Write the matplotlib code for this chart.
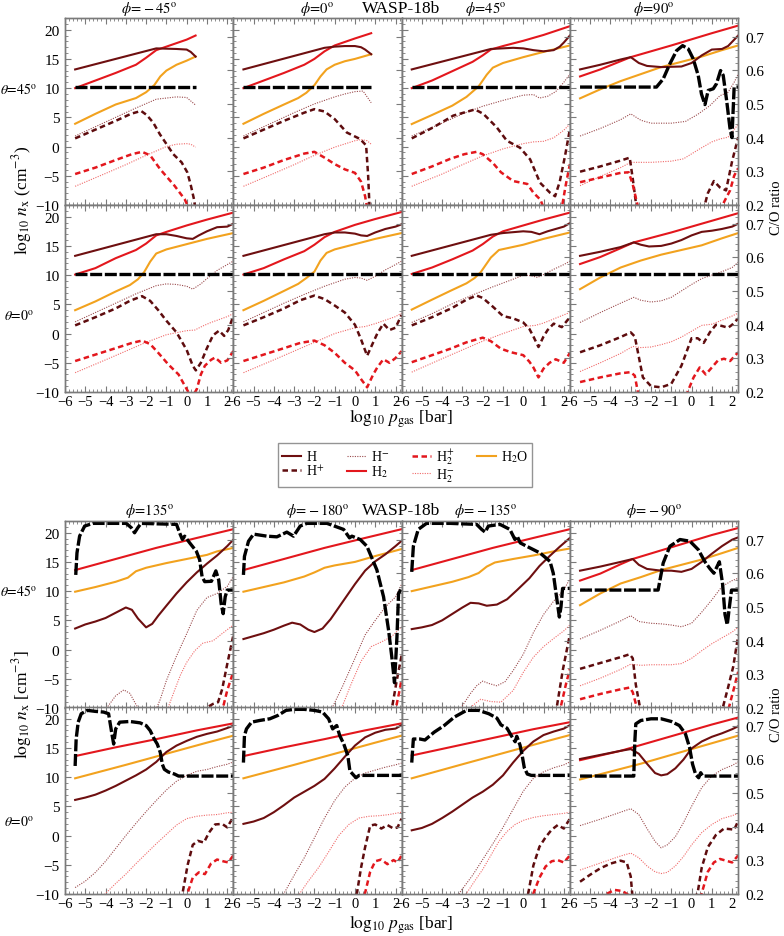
import matplotlib
matplotlib.use("Agg")
import matplotlib.pyplot as plt
from matplotlib.ticker import MultipleLocator
from matplotlib.lines import Line2D

plt.rcParams['font.family'] = ['Liberation Serif', 'DejaVu Serif']
plt.rcParams['mathtext.fontset'] = 'stix'

# ---------------- top block: WASP-18b, phi = -45, 0, 45, 90 ----------------
# row theta=45
a11_h = ([-5.5, -1.5, -0.5, 0, 0.2, 0.44], [13.2, 16.8, 16.7, 16.6, 16.2, 15.4])
a11_hp = ([-5.5, -4.5, -3.5, -2.75, -2.25, -1.97, -1.65, -1.32, -0.99, -0.66, -0.25, 0.03, 0.19, 0.36, 0.42],
          [1.4, 2.9, 4.4, 5.6, 6.1, 5.4, 4.1, 2.1, 0.4, -1.3, -2.7, -4.4, -6.4, -9.0, -10.5])
a11_hm = ([-5.5, -4.5, -3.5, -2.5, -1.5, -0.5, 0, 0.44], [1.8, 3.4, 5.0, 6.6, 8.1, 8.5, 8.4, 7.1])
a11_h2 = ([-5.5, -4.5, -3.5, -2.5, -2, -1.5, -1, 0, 0.44], [10.0, 11.3, 12.6, 14.0, 15.2, 16.5, 17.1, 18.3, 19.0])
a11_h2p = ([-5.5, -4.5, -3.5, -2.7, -2.2, -1.8, -1.3, -0.6, -0.1, 0.1],
           [-4.7, -3.6, -2.3, -1.3, -0.9, -1.5, -3.9, -6.7, -9.0, -10.5])
a11_h2m = ([-5.5, -4, -3, -2, -1, -0.5, 0, 0.2, 0.44], [-6.8, -4.6, -3.1, -1.5, 0.0, 0.4, 0.5, 0.4, -0.1])
a11_h2o = ([-5.5, -4.5, -3.5, -2.5, -2, -1.6, -1.3, -1, -0.5, 0, 0.44],
           [3.9, 5.6, 7.2, 8.3, 9.3, 10.5, 12.0, 13.0, 14.0, 14.7, 15.4])
a11_co = ([-5.5, 0.44], [0.55, 0.55])

a12_h = ([-5.5, -1.5, -1, -0.5, 0, 0.3, 0.5, 0.8], [13.2, 16.9, 17.1, 17.2, 17.2, 17.0, 16.6, 15.8])
a12_hp = ([-5.5, -4.5, -3.5, -2.5, -2, -1.5, -1, -0.4, 0.25, 0.55, 0.65, 0.72],
          [1.4, 2.9, 4.4, 5.8, 6.4, 6.0, 4.7, 2.4, 1.3, 0.2, -5.0, -10.5])
a12_hm = ([-5.5, -4, -3, -2, -1, -0.5, 0, 0.4, 0.8], [1.8, 4.2, 5.8, 7.3, 8.5, 9.0, 9.4, 9.5, 7.5])
a12_h2 = ([-5.5, -4.5, -3.5, -2.5, -2, -1.5, -1, 0, 0.8], [10.0, 11.3, 12.6, 14.0, 15.0, 16.3, 17.3, 18.5, 19.4])
a12_h2p = ([-5.5, -4.5, -3.5, -2.5, -2, -1.5, -1, -0.5, 0, 0.3, 0.5, 0.6],
           [-4.7, -3.6, -2.3, -1.2, -0.9, -1.9, -3.0, -3.9, -4.5, -6.0, -8.5, -10.5])
a12_h2m = ([-5.5, -4, -3, -2, -1, 0, 0.3, 0.6, 0.8], [-6.8, -4.6, -3.1, -1.5, -0.1, 1.0, 1.2, 1.0, 0.4])
a12_h2o = ([-5.5, -4.5, -3.5, -2.8, -2.4, -2.0, -1.7, -1.4, -1, -0.5, 0, 0.8],
           [3.9, 5.6, 7.2, 8.3, 9.2, 10.5, 12.0, 13.2, 14.0, 14.6, 15.0, 15.8])
a12_co = ([-5.5, 0.8], [0.55, 0.55])

a13_h = ([-5.5, -1.6, -0.5, 0, 0.5, 1.0, 1.5, 1.8, 2.0, 2.3], [13.2, 16.7, 16.9, 16.8, 16.5, 16.3, 16.5, 17.1, 17.8, 19.0])
a13_hp = ([-5.5, -4.43, -3.45, -2.38, -1.97, -1.31, -0.81, -0.16, 0.34, 0.83, 1.32, 1.57, 1.8, 2.06, 2.3],
          [1.4, 3.3, 5.3, 6.35, 5.6, 3.3, 1.0, -0.2, -2.2, -6.2, -7.9, -8.5, -6.0, -1.6, 3.0])
a13_hm = ([-5.5, -4, -3, -2, -1, 0, 0.5, 0.8, 1.2, 1.6, 2.0, 2.3], [1.8, 4.0, 5.6, 6.9, 7.9, 8.8, 8.9, 8.3, 8.6, 9.4, 11.0, 12.4])
a13_h2 = ([-5.5, -4.5, -3.5, -2.5, -2, -1.6, -1, 0, 1, 2.3], [10.0, 11.3, 12.9, 14.5, 15.6, 16.6, 17.2, 18.1, 19.1, 20.6])
a13_h2p = ([-5.5, -4.5, -3.6, -2.9, -2.3, -2.0, -1.5, -1.1, -0.5, 0.2, 0.5, 0.85, 1.0, 1.5, 1.9, 2.1, 2.3],
           [-4.7, -3.4, -2.1, -1.3, -0.9, -1.3, -2.8, -4.4, -5.9, -6.4, -7.9, -9.1, -10.5, -12, -10.5, -6.5, -3.0])
a13_h2m = ([-5.5, -4, -3, -2, -1, 0, 0.5, 1, 1.5, 2, 2.3], [-6.8, -4.7, -3.1, -1.6, -0.4, 0.5, 0.8, 0.9, 1.5, 2.8, 3.85])
a13_h2o = ([-5.5, -4.5, -3.5, -2.8, -2.2, -1.8, -1.5, -1, 0, 1, 2.3],
           [3.85, 5.4, 7.0, 8.5, 10.3, 12.3, 13.5, 14.3, 15.3, 16.2, 17.3])
a13_co = ([-5.5, 2.3], [0.55, 0.55])

a14_h = ([-5.5, -4.5, -3.5, -3.0, -2.6, -2.2, -1.5, -0.5, 0, 0.5, 1.0, 1.5, 1.8, 2.3],
         [13.2, 14.0, 14.9, 15.3, 14.3, 13.8, 13.6, 13.7, 14.3, 15.6, 16.6, 16.7, 17.2, 19.0])
a14_hp = ([-5.5, -4.5, -3.5, -3.05, -2.9, -2.75, -2.6, 0.5, 0.8, 1.1, 1.4, 1.7, 2.0, 2.3],
          [-4.3, -3.4, -2.4, -1.9, -5.5, -9.5, -12, -12, -8, -5.9, -7.0, -7.5, -2.5, 1.6])
a14_hm = ([-5.5, -4.5, -3.5, -3.0, -2.5, -2, -1, -0.3, 0.3, 0.9, 1.4, 1.8, 2.1, 2.3],
          [1.8, 3.1, 4.6, 5.6, 4.5, 4.0, 4.0, 4.3, 5.5, 7.0, 8.7, 9.3, 11.0, 12.4])
a14_h2 = ([-5.5, -4.5, -3.5, -3, -1, 1, 2.3], [12.0, 13.2, 14.6, 15.3, 17.3, 19.4, 20.7])
a14_h2p = ([-5.5, -4.5, -3.5, -3.1, -2.9, -2.7, -2.5, 1.4, 1.6, 1.9, 2.1, 2.3],
           [-6.1, -5.3, -4.5, -4.4, -6.5, -9.5, -12, -12, -9.5, -7.5, -5.0, -3.7])
a14_h2m = ([-5.5, -4.5, -3.5, -3, -2.5, -2, -1, -0.4, 0.4, 1, 1.4, 1.8, 2.1, 2.3],
           [-6.7, -5.1, -3.6, -2.7, -2.7, -2.7, -2.5, -2.1, -0.4, 0.8, 1.3, 1.6, 2.9, 3.85])
a14_h2o = ([-5.5, -4.5, -3.5, -2.5, -1.5, -0.5, 0.5, 1.5, 2.3], [8.25, 9.8, 11.2, 12.4, 13.6, 14.5, 15.4, 16.5, 17.3])
a14_co = ([-5.5, -1.73, -1.4, -1.07, -0.74, -0.44, -0.16, 0.08, 0.33, 0.49, 0.66, 0.82, 1.07, 1.23, 1.43, 1.56,
           1.73, 1.89, 1.99, 2.05, 2.1, 2.3],
          [0.55, 0.55, 0.574, 0.619, 0.658, 0.673, 0.663, 0.634, 0.584, 0.529, 0.498, 0.54, 0.545, 0.56, 0.599, 0.585,
           0.51, 0.43, 0.40, 0.48, 0.55, 0.55])

# row theta=0
a21_h = ([-5.5, -1.5, -1, -0.5, 0, 0.3, 0.6, 1.0, 1.5, 2.0, 2.3], [13.3, 17.0, 17.0, 16.7, 16.3, 16.2, 16.8, 17.5, 18.2, 18.3, 18.8])
a21_hp = ([-5.5, -4.5, -3.5, -2.8, -2.2, -1.8, -1.4, -1, -0.5, 0, 0.3, 0.45, 0.7, 1.0, 1.3, 1.6, 1.85, 2.05, 2.3],
          [1.4, 2.8, 4.3, 5.6, 6.4, 5.6, 4.0, 2.2, 0.2, -2.8, -5.5, -6.3, -5.0, -2.5, -0.3, 0.5, -0.4, 0.6, 3.0])
a21_hm = ([-5.5, -4.5, -3.5, -2.5, -1.5, -1, -0.5, 0, 0.3, 0.7, 1.0, 1.5, 2.0, 2.3],
          [2.0, 3.6, 5.2, 6.8, 8.2, 8.5, 8.4, 8.1, 7.6, 8.5, 9.4, 10.8, 11.8, 12.4])
a21_h2 = ([-5.5, -4.5, -3.5, -2.5, -2, -1.5, -1, 0, 1, 2.3], [10.1, 11.2, 12.9, 14.3, 15.4, 16.8, 17.4, 18.5, 19.5, 20.7])
a21_h2p = ([-5.5, -4.5, -3.5, -2.7, -2.2, -1.8, -1.4, -0.9, -0.4, 0, 0.25, 0.5, 0.7, 0.9, 1.2, 1.4, 1.7, 2.0, 2.3],
           [-4.7, -3.6, -2.5, -1.6, -1.2, -1.8, -3.3, -5.3, -7.0, -9.5, -11, -9.5, -7.0, -5.5, -4.5, -4.1, -5.0, -4.6, -3.0])
a21_h2m = ([-5.5, -4, -3, -2, -1, 0, 0.4, 0.8, 1.2, 1.6, 2.0, 2.3], [-6.7, -4.5, -3.0, -1.5, -0.2, 0.5, 0.6, 1.3, 1.9, 2.4, 2.9, 3.4])
a21_h2o = ([-5.5, -4.5, -3.5, -2.8, -2.4, -2.1, -1.8, -1.5, -1, 0, 1, 2.3],
           [4.0, 5.5, 7.2, 8.3, 9.3, 10.5, 12.3, 13.7, 14.4, 15.3, 16.2, 17.2])
a21_co = ([-5.5, 2.3], [0.55, 0.55])

a22_h = ([-5.5, -1.5, -1, -0.5, 0, 0.3, 0.6, 1.0, 1.5, 2.0, 2.3], [13.3, 17.0, 17.3, 17.3, 17.1, 16.8, 16.7, 17.3, 17.9, 18.3, 18.7])
a22_hp = ([-5.5, -4.5, -3.5, -2.7, -2.0, -1.5, -1, -0.5, 0, 0.3, 0.6, 0.9, 1.1, 1.4, 1.7, 2.0, 2.3],
          [1.4, 2.8, 4.3, 5.7, 6.5, 5.9, 4.8, 3.6, 1.5, -1.0, -3.8, -1.5, 0.0, 1.7, 0.6, 1.0, 3.2])
a22_hm = ([-5.5, -4.5, -3.5, -2.5, -1.5, -0.5, 0, 0.3, 0.6, 1.0, 1.5, 2.0, 2.3],
          [2.0, 3.6, 5.2, 6.7, 8.1, 9.3, 9.6, 9.5, 9.1, 9.8, 10.9, 11.8, 12.4])
a22_h2 = ([-5.5, -4.5, -3.5, -2.5, -2, -1.5, -1, 0, 1, 2.3], [10.1, 11.2, 12.7, 14.1, 15.2, 16.5, 17.4, 18.6, 19.6, 20.8])
a22_h2p = ([-5.5, -4.5, -3.5, -2.7, -2.0, -1.5, -1, -0.5, 0, 0.3, 0.6, 0.9, 1.1, 1.4, 1.7, 2.0, 2.3],
           [-4.7, -3.6, -2.5, -1.6, -1.2, -2.0, -3.3, -5.0, -6.3, -7.8, -9.2, -7.0, -5.8, -4.4, -5.0, -4.2, -3.0])
a22_h2m = ([-5.5, -4, -3, -2, -1, 0, 0.5, 1.0, 1.5, 2.0, 2.3], [-6.7, -4.5, -3.0, -1.5, 0.0, 1.0, 1.2, 1.7, 2.3, 2.9, 3.5])
a22_h2o = ([-5.5, -4.5, -3.5, -2.8, -2.4, -2.0, -1.7, -1.4, -1, 0, 1, 2.3],
           [4.0, 5.6, 7.3, 8.5, 9.5, 10.6, 12.5, 13.8, 14.4, 15.3, 16.2, 17.2])
a22_co = ([-5.5, 2.3], [0.55, 0.55])

a23_h = ([-5.5, -1.6, -1, 0, 0.4, 0.8, 1.2, 1.6, 2.0, 2.3], [13.3, 16.9, 17.2, 17.5, 17.4, 17.0, 17.5, 17.9, 18.3, 18.9])
a23_hp = ([-5.5, -4.5, -3.5, -2.8, -2.3, -2.0, -1.5, -1, -0.5, 0, 0.3, 0.5, 0.75, 1.0, 1.2, 1.5, 1.9, 2.3],
          [1.4, 2.8, 4.4, 5.8, 6.5, 6.1, 4.6, 3.0, 2.6, 1.9, 0.8, -0.5, -2.3, -0.5, 0.6, 1.7, 1.1, 2.8])
a23_hm = ([-5.5, -4.5, -3.5, -2.5, -1.5, -0.5, 0, 0.4, 0.7, 1.0, 1.5, 2.0, 2.3],
          [1.9, 3.4, 5.1, 6.6, 8.0, 9.3, 10.0, 9.9, 9.6, 10.1, 11.0, 11.8, 12.4])
a23_h2 = ([-5.5, -4.5, -3.5, -2.5, -2, -1.5, -1, 0, 1, 2.3], [10.2, 11.3, 12.7, 14.2, 15.3, 16.6, 17.5, 18.5, 19.5, 20.7])
a23_h2p = ([-5.5, -4.5, -3.6, -2.8, -2.0, -1.6, -1.1, -0.6, 0, 0.3, 0.5, 0.75, 1.0, 1.3, 1.6, 2.0, 2.3],
           [-4.9, -3.7, -2.6, -1.5, -0.7, -1.3, -2.6, -3.2, -3.7, -4.8, -5.8, -7.5, -6.0, -5.0, -4.4, -5.0, -3.3])
a23_h2m = ([-5.5, -4, -3, -2, -1, 0, 0.6, 1.0, 1.5, 2.0, 2.3], [-6.6, -4.3, -2.8, -1.3, 0.0, 1.2, 1.4, 1.8, 2.5, 3.2, 3.6])
a23_h2o = ([-5.5, -4.5, -3.6, -2.8, -2.4, -2.1, -1.8, -1.6, -1.2, 0, 1, 2.3],
           [4.1, 5.8, 7.3, 8.6, 9.5, 10.5, 12.0, 13.0, 14.3, 15.2, 16.2, 17.3])
a23_co = ([-5.5, 2.3], [0.55, 0.55])

a24_h = ([-5.5, -4.5, -3.5, -2.85, -2.5, -2.1, -1.5, -1, -0.5, 0, 0.5, 1, 1.5, 2, 2.3],
         [13.3, 14.0, 14.8, 15.6, 15.2, 14.9, 15.0, 15.4, 16.0, 16.8, 17.4, 17.6, 17.9, 18.3, 18.8])
a24_hp = ([-5.5, -4.5, -3.5, -3.0, -2.8, -2.6, -2.4, -2.0, -1.5, -1.0, -0.5, 0, 0.3, 0.6, 0.9, 1.2, 1.5, 1.8, 2.0, 2.3],
          [-3.2, -2.0, -0.6, 0.2, -0.5, -4.0, -7.5, -9.0, -9.2, -8.6, -5.5, -0.8, -0.8, -1.6, 0.2, 1.5, 1.3, 1.0, 1.5, 2.6])
a24_hm = ([-5.5, -4.5, -3.5, -2.85, -2.5, -2, -1.5, -1, -0.5, 0, 0.5, 1, 1.5, 2, 2.3],
          [1.9, 3.6, 5.2, 6.2, 5.7, 5.4, 5.6, 6.2, 7.3, 8.4, 9.4, 10.0, 10.6, 11.3, 12.2])
a24_h2 = ([-5.5, -4.5, -3.5, -2.85, -1, 1, 2.3], [11.9, 13.1, 14.6, 15.6, 17.3, 19.3, 20.6])
a24_h2p = ([-5.5, -4.5, -3.5, -3.0, -2.8, -2.65, -2.5, -0.5, -0.2, 0.1, 0.4, 0.7, 1.0, 1.3, 1.6, 1.9, 2.3],
           [-8.3, -7.5, -6.8, -6.6, -7.2, -10, -12, -12, -10, -7.5, -5.8, -7.0, -5.8, -4.6, -4.3, -4.7, -3.2])
a24_h2m = ([-5.5, -4.5, -3.5, -2.9, -2.5, -2, -1.5, -1, -0.5, 0, 0.5, 1, 1.5, 2, 2.3],
           [-6.5, -5.0, -3.4, -2.2, -2.4, -2.3, -1.9, -1.4, -0.6, 0.4, 1.4, 1.6, 2.3, 3.0, 3.5])
a24_h2o = ([-5.5, -4.5, -3.5, -2.5, -1.5, -0.5, 0.5, 1.5, 2.3], [7.6, 9.6, 11.3, 12.5, 13.5, 14.3, 15.1, 16.3, 17.2])
a24_co = ([-5.5, 2.3], [0.55, 0.55])

# ---------------- bottom block: WASP-18b, phi = 135, -180, -135, -90 ----------------
# row theta=45
b11_h = ([-5.5, -5, -4.5, -4, -3.5, -3.0, -2.7, -2.4, -2.0, -1.7, -1.4, -1, -0.5, 0, 0.5, 1, 1.5, 2, 2.3],
         [3.6, 4.3, 4.8, 5.4, 6.3, 7.2, 6.8, 5.3, 3.8, 4.4, 5.8, 7.5, 9.6, 11.5, 13.2, 14.7, 16.1, 17.7, 18.8])
b11_hp = ([0.9, 1.0, 1.3, 1.55, 1.75, 2.0, 2.3], [-11, -9.9, -9.3, -9.0, -6.8, -2.5, 2.4])
b11_hm = ([-4.2, -3.9, -3.5, -3.1, -2.8, -2.5, -2.2, -1.6, -1.3, -1, -0.5, 0, 0.5, 1, 1.5, 2, 2.3],
          [-11, -9.8, -7.9, -6.9, -7.5, -9.4, -11, -11, -8.5, -5.3, -1.1, 2.7, 6.7, 8.9, 9.6, 10.8, 12.5])
b11_h2 = ([-5.5, -3.5, -1.5, 0.5, 2.3], [13.6, 15.5, 17.4, 19.1, 20.6])
b11_h2p = ([1.65, 1.8, 2.0, 2.3], [-11, -9.8, -7.0, -3.8])
b11_h2m = ([-1.1, -0.9, -0.6, -0.3, 0, 0.4, 0.8, 1.3, 1.7, 2.0, 2.3], [-11, -9.8, -7.0, -4.3, -2.2, -0.2, 1.1, 1.5, 2.6, 3.4, 4.2])
b11_h2o = ([-5.5, -4.5, -3.5, -2.9, -2.5, -2, -1, 0, 1, 1.5, 2.3], [9.9, 10.7, 11.6, 12.3, 13.4, 14.0, 14.8, 15.5, 16.2, 16.8, 17.4])
b11_co = ([-5.47, -5.41, -5.28, -5.03, -4.62, -2.98, -2.73, -2.57, -2.41, -2.25, -0.5, -0.35, -0.21, -0.1, 0.15,
           0.48, 0.64, 0.76, 0.89, 1.22, 1.44, 1.58, 1.7, 1.8, 1.9, 2.0, 2.3],
          [0.595, 0.66, 0.71, 0.74, 0.748, 0.748, 0.735, 0.72, 0.735, 0.748, 0.745, 0.72, 0.70, 0.71, 0.69,
           0.665, 0.64, 0.59, 0.575, 0.576, 0.607, 0.58, 0.51, 0.48, 0.53, 0.55, 0.55])

b12_h = ([-5.5, -5, -4.5, -4, -3.5, -3.1, -2.7, -2.3, -2, -1.6, -1.2, -0.8, -0.4, 0, 0.5, 1, 1.5, 2, 2.3],
         [1.8, 2.3, 2.8, 3.4, 4.1, 4.6, 4.3, 3.4, 3.0, 3.6, 5.2, 7.2, 9.2, 11.2, 13.5, 15.1, 16.3, 17.7, 18.6])
b12_hp = ([1.7, 1.85, 2.05, 2.3], [-11, -9.5, -5.5, -1.0])
b12_hm = ([-1.4, -1.1, -0.6, 0, 0.5, 1, 1.5, 2, 2.3], [-11.5, -9.8, -6.2, -1.5, 2.5, 5.0, 7.3, 9.0, 11.2])
b12_h2 = ([-5.5, -3.5, -1.5, 0.5, 2.3], [13.6, 15.5, 17.4, 19.1, 20.6])
b12_h2p = ([1.9, 2.05, 2.2, 2.3], [-11, -9.5, -7.0, -5.0])
b12_h2m = ([-0.9, -0.6, -0.2, 0.3, 0.8, 1.3, 1.8, 2.3], [-11, -9.5, -6.0, -2.0, 0.5, 1.3, 2.2, 3.9])
b12_h2o = ([-5.5, -4.5, -3.5, -2.5, -2, -1.5, -1, 0, 1, 2.3], [9.9, 10.7, 11.5, 12.5, 13.2, 14.0, 14.4, 15.0, 16.0, 17.2])
b12_co = ([-5.5, -5.45, -5.25, -5.0, -4.34, -3.85, -3.36, -3.03, -2.7, -2.37, -1.38, -0.56, -0.27, -0.15, 0.26,
           0.59, 1.08, 1.41, 1.66, 1.82, 1.95, 2.07, 2.15, 2.3],
          [0.595, 0.65, 0.695, 0.716, 0.71, 0.708, 0.722, 0.71, 0.74, 0.748, 0.748, 0.73, 0.705, 0.71, 0.70,
           0.68, 0.61, 0.53, 0.43, 0.35, 0.275, 0.41, 0.54, 0.555])

b13_h = ([-5.5, -5, -4.5, -4, -3.5, -3, -2.6, -2.2, -1.8, -1.3, -0.8, -0.3, 0.3, 0.8, 1.3, 1.8, 2.3],
         [3.5, 3.8, 4.2, 5.0, 6.1, 7.2, 8.0, 7.9, 7.5, 7.7, 8.6, 10.2, 12.2, 14.3, 16.0, 17.6, 19.1])
b13_hp = ([1.5, 1.65, 1.95, 2.3], [-11, -9.9, -3.5, 2.6])
b13_hm = ([-3.3, -3.0, -2.6, -2.3, -2.0, -1.7, -1.3, -0.9, -0.5, 0, 0.5, 1.0, 1.5, 2.0, 2.3],
          [-11, -9.6, -7.5, -6.2, -5.4, -5.8, -6.2, -5.5, -3.6, -0.8, 2.9, 6.0, 8.3, 10.2, 12.1])
b13_h2 = ([-5.5, -3.5, -1.5, 0.5, 2.3], [13.6, 15.5, 17.4, 19.1, 20.6])
b13_h2p = ([1.7, 1.85, 2.1, 2.3], [-11, -9.8, -6.0, -3.3])
b13_h2m = ([-2.8, -2.5, -2.1, -1.6, -1.1, -0.5, 0, 0.5, 1.0, 1.5, 2.0, 2.3],
           [-11, -9.6, -8.5, -8.9, -9.0, -7.0, -3.9, -1.3, 0.5, 1.9, 3.2, 4.2])
b13_h2o = ([-5.5, -4.5, -3.5, -2.7, -2.2, -1.8, -1.4, -0.5, 0.5, 1.5, 2.3],
           [10.0, 10.8, 11.6, 12.4, 13.1, 14.2, 14.9, 15.5, 16.1, 16.8, 17.3])
b13_co = ([-5.5, -5.42, -5.18, -4.77, -3.6, -2.3, -2.05, -1.88, -1.72, -1.15, -0.66, -0.41, -0.3, -0.15, 0.17,
           0.83, 1.32, 1.48, 1.64, 1.78, 1.86, 1.94, 2.3],
          [0.604, 0.68, 0.73, 0.748, 0.748, 0.745, 0.73, 0.722, 0.74, 0.745, 0.73, 0.70, 0.71, 0.69, 0.68,
           0.66, 0.635, 0.60, 0.53, 0.47, 0.50, 0.555, 0.555])

b14_h = ([-5.5, -4.5, -3.5, -2.9, -2.6, -2.2, -1.5, -1, -0.5, 0, 0.5, 1, 1.5, 2, 2.3],
         [13.5, 14.2, 15.0, 15.5, 14.5, 13.8, 13.5, 13.5, 13.3, 13.8, 15.0, 16.4, 17.7, 18.8, 19.2])
b14_hp = ([-5.5, -4.5, -3.5, -3.05, -2.9, -2.75, -2.55, -2.3, 1.3, 1.55, 1.8, 2.05, 2.3],
          [-3.3, -2.3, -1.3, -0.8, -1.5, -6.0, -9.8, -12, -12, -9.8, -6.5, -3.0, 2.4])
b14_hm = ([-5.5, -4.5, -3.5, -3.0, -2.6, -2, -1.5, -1, -0.5, 0, 0.5, 1, 1.5, 2, 2.3],
          [1.8, 3.3, 4.9, 5.8, 4.8, 4.5, 4.4, 4.2, 3.9, 4.5, 6.4, 8.5, 10.8, 11.8, 12.2])
b14_h2 = ([-5.5, -4.5, -3.5, -2.9, -1, 1, 2.3], [11.8, 13.0, 14.6, 15.5, 17.5, 19.6, 20.8])
b14_h2p = ([-5.5, -4.5, -3.5, -3.05, -2.9, -2.7, -2.5, 1.6, 1.85, 2.1, 2.3],
           [-8.5, -7.6, -6.8, -6.5, -7.3, -9.9, -12, -12, -9.8, -6.5, -3.8])
b14_h2m = ([-5.5, -4.5, -3.5, -3, -2.5, -2, -1.5, -1, -0.5, 0, 0.5, 1, 1.5, 2, 2.3],
           [-6.2, -4.9, -3.4, -2.5, -2.7, -2.6, -2.6, -2.6, -2.4, -1.5, -0.2, 1.0, 2.0, 3.0, 3.8])
b14_h2o = ([-5.5, -4.5, -3.5, -2.5, -1.5, -0.5, 0.5, 1.5, 2.3], [7.6, 9.6, 11.3, 12.4, 13.6, 14.5, 15.4, 16.5, 17.4])
b14_co = ([-5.5, -1.65, -1.4, -1.07, -0.57, -0.08, 0.33, 0.66, 0.9, 1.1, 1.37, 1.53, 1.65, 1.76, 1.86, 1.97, 2.3],
          [0.55, 0.55, 0.63, 0.68, 0.70, 0.695, 0.67, 0.634, 0.614, 0.60, 0.634, 0.568, 0.477, 0.447, 0.497, 0.55, 0.55])

# row theta=0
b21_h = ([-5.5, -5, -4.5, -4, -3.5, -3, -2.5, -2, -1.5, -1, -0.5, 0, 0.5, 1, 1.5, 2, 2.3],
         [6.1, 6.5, 7.0, 7.7, 8.5, 9.4, 10.3, 11.3, 12.6, 14.3, 15.4, 16.2, 16.9, 17.4, 17.8, 18.4, 18.8])
b21_hp = ([-0.35, -0.2, 0.05, 0.3, 0.55, 0.85, 1.1, 1.4, 1.75, 2.0, 2.3], [-11, -9.8, -5.0, -1.6, -0.9, -1.2, 0.5, 1.9, 2.0, 1.4, 3.2])
b21_hm = ([-5.5, -5, -4.5, -4, -3.5, -3, -2.5, -2, -1.5, -1, -0.5, 0, 0.5, 1, 1.5, 2, 2.3],
          [-8.9, -7.8, -6.3, -4.4, -2.2, 0.0, 2.1, 4.1, 6.0, 7.8, 9.3, 10.3, 11.0, 11.3, 11.8, 12.2, 12.6])
b21_h2 = ([-5.5, -3.5, -1.5, 0.5, 2.3], [13.6, 15.1, 16.5, 18.0, 19.2])
b21_h2p = ([-0.1, 0.05, 0.3, 0.6, 0.9, 1.2, 1.5, 1.8, 2.05, 2.3], [-11, -9.8, -7.2, -6.3, -6.6, -4.8, -4.1, -4.4, -4.6, -3.4])
b21_h2m = ([-4.3, -4.0, -3.5, -3, -2.5, -2, -1.5, -1, -0.5, 0, 0.5, 1, 1.5, 2, 2.3],
           [-11, -9.9, -8.2, -6.6, -4.8, -3.1, -1.4, 0.2, 1.8, 2.9, 3.3, 3.5, 3.6, 3.9, 4.0])
b21_h2o = ([-5.5, -3, -1, 1, 2.3], [9.8, 12.1, 14.0, 15.9, 17.1])
b21_co = ([-5.5, -5.45, -5.35, -5.2, -4.9, -4.5, -4.1, -3.85, -3.7, -3.6, -3.5, -3.3, -2.8, -2.3, -2.0, -1.8,
           -1.6, -1.45, -1.3, -1.2, -1.1, -0.9, -0.6, -0.4, 2.3],
          [0.58, 0.66, 0.71, 0.735, 0.745, 0.742, 0.74, 0.735, 0.68, 0.645, 0.69, 0.71, 0.712, 0.708, 0.70, 0.685,
           0.66, 0.645, 0.62, 0.585, 0.57, 0.562, 0.556, 0.55, 0.55])

b22_h = ([-5.5, -5, -4.5, -4, -3.5, -3, -2.5, -2, -1.5, -1, -0.5, 0, 0.5, 1, 1.5, 2, 2.3],
         [2.0, 2.4, 3.0, 4.0, 5.2, 6.5, 7.5, 8.5, 9.7, 11.5, 13.5, 15.4, 16.8, 17.6, 18.1, 18.3, 18.9])
b22_hp = ([-0.1, 0.1, 0.3, 0.5, 0.75, 1.0, 1.3, 1.6, 1.9, 2.1, 2.3], [-11.5, -9.8, -5.5, -2.0, 1.7, 1.9, 1.2, 1.8, 1.2, 1.4, 2.9])
b22_hm = ([-3.8, -3.5, -3, -2.5, -2, -1.5, -1, -0.5, 0, 0.5, 1, 1.5, 2, 2.3],
          [-11.5, -9.9, -6.8, -3.8, -0.4, 3.0, 6.0, 8.3, 9.8, 10.7, 11.2, 11.7, 12.1, 12.4])
b22_h2 = ([-5.5, -3.5, -1.5, 0.5, 2.3], [13.6, 15.1, 16.5, 18.0, 19.2])
b22_h2p = ([0.3, 0.5, 0.75, 1.0, 1.3, 1.6, 1.9, 2.1, 2.3], [-11.5, -9.8, -6.2, -4.4, -4.1, -4.9, -4.2, -4.6, -3.4])
b22_h2m = ([-3.0, -2.7, -2.3, -1.8, -1.3, -0.8, -0.3, 0.2, 0.7, 1.2, 1.7, 2.3],
           [-11.5, -9.8, -7.8, -5.5, -2.8, 0.0, 1.9, 3.0, 3.3, 3.4, 3.6, 4.0])
b22_h2o = ([-5.5, -3, -1, 1, 2.3], [9.8, 12.1, 14.0, 15.9, 17.1])
b22_co = ([-5.5, -5.45, -5.35, -5.1, -4.7, -4.2, -3.8, -3.4, -3.0, -2.5, -2.0, -1.6, -1.3, -1.1, -0.9, -0.75,
           -0.55, -0.35, -0.25, -0.1, 0.05, 0.2, 2.3],
          [0.59, 0.67, 0.69, 0.71, 0.715, 0.72, 0.73, 0.745, 0.748, 0.748, 0.745, 0.74, 0.72, 0.69, 0.70, 0.67,
           0.645, 0.61, 0.565, 0.555, 0.545, 0.552, 0.552])

b23_h = ([-5.5, -5, -4.5, -4, -3.5, -3, -2.5, -2, -1.5, -1, -0.5, 0, 0.5, 1, 1.5, 2, 2.3],
         [0.9, 1.3, 2.0, 3.0, 4.1, 5.3, 6.5, 7.5, 8.7, 10.3, 12.5, 14.5, 16.1, 17.2, 17.8, 18.3, 18.9])
b23_hp = ([0.1, 0.25, 0.5, 0.8, 1.1, 1.4, 1.7, 2.0, 2.3], [-11.5, -9.8, -5.1, -1.9, -0.3, 1.0, 1.8, 1.2, 2.9])
b23_hm = ([-3.4, -3.1, -2.5, -2, -1.5, -1, -0.5, 0, 0.5, 1, 1.5, 2, 2.3],
          [-11.5, -9.6, -6.8, -4.1, -1.4, 1.4, 4.5, 7.6, 9.8, 10.9, 11.6, 12.1, 12.6])
b23_h2 = ([-5.5, -3.5, -1.5, 0.5, 2.3], [13.7, 15.2, 16.7, 18.2, 19.4])
b23_h2p = ([0.35, 0.5, 0.8, 1.1, 1.4, 1.7, 2.0, 2.3], [-11.5, -9.9, -7.2, -5.3, -4.4, -4.2, -4.6, -3.4])
b23_h2m = ([-3.1, -2.8, -2.4, -2, -1.6, -1.2, -0.8, -0.4, 0, 0.5, 1, 1.5, 2, 2.3],
           [-11.5, -9.9, -7.8, -5.8, -3.4, -1.0, 0.7, 1.9, 2.6, 3.1, 3.4, 3.6, 3.8, 4.0])
b23_h2o = ([-5.5, -3, -1, 1, 2.3], [9.8, 12.2, 14.1, 16.0, 17.2])
b23_co = ([-5.5, -5.42, -5.1, -4.85, -4.4, -3.9, -3.4, -2.8, -2.2, -1.7, -1.3, -1.1, -0.8, -0.57, -0.4, -0.32,
           -0.16, -0.05, 0.05, 0.2, 0.4, 2.3],
          [0.59, 0.66, 0.66, 0.657, 0.68, 0.70, 0.725, 0.745, 0.745, 0.735, 0.722, 0.702, 0.692, 0.668, 0.652, 0.668,
           0.642, 0.61, 0.575, 0.556, 0.552, 0.552])

b24_h = ([-5.5, -4.5, -3.5, -3.0, -2.6, -2.2, -1.8, -1.5, -1.2, -0.8, -0.4, 0, 0.5, 1, 1.5, 2, 2.3],
         [13.1, 13.8, 14.5, 14.8, 14.0, 12.3, 10.7, 10.3, 10.5, 11.5, 13.0, 14.9, 16.1, 16.9, 17.5, 18.2, 18.7])
b24_hp = ([-5.5, -5.0, -4.5, -4.0, -3.5, -3.2, -3.0, -2.9, 0.1, 0.3, 0.5, 0.8, 1.2, 1.6, 1.9, 2.1, 2.3],
          [-7.9, -6.7, -5.6, -4.8, -4.3, -4.6, -7.0, -11, -11, -9.8, -5.5, -2.0, 0.1, 1.2, 1.1, 1.0, 2.5])
b24_hm = ([-5.5, -4.5, -3.5, -3.0, -2.6, -2.2, -1.8, -1.5, -1.2, -0.8, -0.4, 0, 0.5, 1, 1.5, 2, 2.3],
          [1.7, 2.8, 4.0, 4.6, 3.6, 1.2, -1.0, -2.1, -1.6, -0.2, 2.2, 5.0, 8.2, 10.2, 11.3, 12.0, 12.6])
b24_h2 = ([-5.5, -4.5, -3.5, -3.0, -1, 1, 2.3], [12.9, 13.7, 14.5, 15.0, 17.0, 19.0, 20.2])
b24_h2p = ([-4.5, -4.2, -3.8, -3.4, -3.1, -2.9, 0.3, 0.5, 0.8, 1.1, 1.4, 1.7, 2.0, 2.3],
           [-11, -10, -9.3, -9.5, -10.2, -12, -12, -9.9, -6.2, -4.6, -4.0, -4.3, -4.6, -3.4])
b24_h2m = ([-5.5, -4.5, -3.5, -3.0, -2.6, -2.2, -1.8, -1.5, -1.2, -0.8, -0.4, 0, 0.5, 1, 1.5, 2, 2.3],
           [-5.9, -4.7, -3.5, -3.0, -3.8, -5.2, -6.2, -6.5, -6.3, -5.2, -3.6, -1.6, 0.5, 1.9, 2.9, 3.4, 3.8])
b24_h2o = ([-5.5, -4.5, -3.5, -2.5, -1.5, -0.5, 0.5, 1.5, 2.3], [9.6, 10.5, 11.4, 12.3, 13.3, 14.3, 15.3, 16.3, 17.1])
b24_co = ([-5.5, -2.85, -2.8, -2.75, -2.5, -2.0, -1.5, -1.0, -0.6, -0.3, -0.1, 0.05, 0.2, 0.35, 0.45, 0.55, 2.3],
          [0.55, 0.55, 0.65, 0.705, 0.715, 0.72, 0.72, 0.712, 0.70, 0.675, 0.635, 0.585, 0.555, 0.545, 0.56, 0.55, 0.55])

phi_top = [r'$\phi\!=\!-45^{\rm o}$', r'$\phi\!=\!0^{\rm o}$', r'$\phi\!=\!45^{\rm o}$', r'$\phi\!=\!90^{\rm o}$']
phi_bottom = [r'$\phi\!=\!135^{\rm o}$', r'$\phi\!=\!-180^{\rm o}$', r'$\phi\!=\!-135^{\rm o}$', r'$\phi\!=\!-90^{\rm o}$']
species = ['hm', 'h2m', 'hp', 'h2p', 'h2o', 'h2', 'h']
legend_order = ['h', 'hp', 'hm', 'h2', 'h2p', 'h2m', 'h2o']
labels = {'h': 'H', 'hp': r'H$^{+}$', 'hm': r'H$^{-}$', 'h2': r'H$_2$',
          'h2p': r'H$_2^{+}$', 'h2m': r'H$_2^{-}$', 'h2o': r'H$_2$O'}

styles = {
    'h':   dict(color='#6e0f10', ls='-', lw=1.5),
    'hp':  dict(color='#5e0c0e', ls=(0, (2.2, 1.4)), lw=1.8),
    'hm':  dict(color='#9a4a4c', ls=(0, (1, 1.2)), lw=0.8),
    'h2':  dict(color='#e3171d', ls='-', lw=1.5),
    'h2p': dict(color='#e3171d', ls=(0, (2.2, 1.4)), lw=1.8),
    'h2m': dict(color='#f06a6a', ls=(0, (1, 1.2)), lw=0.8),
    'h2o': dict(color='#f2a21e', ls='-', lw=1.5),
}

g = globals()
blocks = []
for b in ['a', 'b']:
    rows = []
    for r in [1, 2]:
        rows.append([{k: g['%s%d%d_%s' % (b, r, c, k)] for k in species + ['co']} for c in [1, 2, 3, 4]])
    blocks.append(rows)

W, H = 784, 937
fig = plt.figure(figsize=(W / 100, H / 100), dpi=100)

left, pw, rh = 65, 168.3, 187
row_tops = [[19, 206], [522, 708]]
spine_c = '#7a7a7a'

for bi, rows in enumerate(blocks):
    for ri, row in enumerate(rows):
        top = row_tops[bi][ri]
        for ci, pdata in enumerate(row):
            ax = fig.add_axes([(left + ci * pw) / W, 1 - (top + rh) / H, pw / W, rh / H])
            for k in species:
                x, y = pdata[k]
                ax.plot(x, y, **styles[k])
            ax.set_xlim(-6, 2.3)
            ax.set_ylim(-10, 22)
            ax.set_xticks(range(-6, 3))
            ax.set_yticks([-10, -5, 0, 5, 10, 15, 20])
            ax.xaxis.set_minor_locator(MultipleLocator(0.2))
            ax.yaxis.set_minor_locator(MultipleLocator(1))
            ax.tick_params(which='both', direction='in', top=True, right=False, labelsize=11, colors=spine_c,
                           labelcolor='black')
            ax.tick_params(which='major', length=4, pad=4)
            ax.tick_params(which='minor', length=2)
            ax.tick_params(axis='x', pad=2.5, labelsize=10.5)
            if ci > 0:
                ax.tick_params(labelleft=False)
            if ri == 0:
                ax.tick_params(labelbottom=False)

            ax2 = ax.twinx()
            x, y = pdata['co']
            ax2.plot(x, y, color='black', lw=2.4, ls=(0, (3.6, 0.8)))
            ax2.set_ylim(0.2, 0.755)
            ax2.set_yticks([0.2, 0.3, 0.4, 0.5, 0.6, 0.7])
            ax2.yaxis.set_minor_locator(MultipleLocator(0.02))
            ax2.tick_params(which='both', direction='in', labelsize=11, colors=spine_c, labelcolor='black')
            ax2.tick_params(which='major', length=4, pad=5)
            ax2.tick_params(which='minor', length=2)
            if ci < 3:
                ax2.tick_params(labelright=False)
            for a in (ax, ax2):
                for s in a.spines.values():
                    s.set_color(spine_c)
                    s.set_linewidth(1.0)

# titles and labels
col_centres = [left + pw * (c + 0.5) for c in range(4)]
for bi, (names, ty) in enumerate([(phi_top, 9), (phi_bottom, 511)]):
    for c, name in enumerate(names):
        fig.text(col_centres[c] / W, 1 - ty / H, name, ha='center', va='center', fontsize=10.5)
    fig.text(401 / W, 1 - ty / H, 'WASP-18b', ha='center', va='center', fontsize=12.5)

for ty, txt in [(89, r'$\theta\!=\!45^{\rm o}$'), (316, r'$\theta\!=\!0^{\rm o}$'),
                (592, r'$\theta\!=\!45^{\rm o}$'), (822, r'$\theta\!=\!0^{\rm o}$')]:
    fig.text(19 / W, 1 - ty / H, txt, ha='center', va='center', fontsize=10)

fig.text(22 / W, 1 - 200 / H, r'$\log_{10}\, n_{\rm x}$ (cm$^{-3}$)', rotation=90, ha='center', va='center', fontsize=12.5)
fig.text(22 / W, 1 - 705 / H, r'$\log_{10}\, n_{\rm x}$ [cm$^{-3}$]', rotation=90, ha='center', va='center', fontsize=12.5)
fig.text(777 / W, 1 - 208 / H, 'C/O ratio', rotation=90, ha='center', va='center', fontsize=10.5)
fig.text(777 / W, 1 - 715 / H, 'C/O ratio', rotation=90, ha='center', va='center', fontsize=10.5)
fig.text(401 / W, 1 - 419 / H, r'$\log_{10}\, p_{\rm gas}$ [bar]', ha='center', va='center', fontsize=12.5)
fig.text(401 / W, 1 - 925 / H, r'$\log_{10}\, p_{\rm gas}$ [bar]', ha='center', va='center', fontsize=12.5)

handles = [Line2D([], [], **styles[k]) for k in legend_order]
leg = fig.legend(handles, [labels[k] for k in legend_order], ncol=4, loc='center',
                 bbox_to_anchor=(405 / W, 1 - 466 / H), fontsize=10, frameon=True, fancybox=False,
                 edgecolor=spine_c, handlelength=1.4, columnspacing=1.6, labelspacing=0.0,
                 borderpad=0.25, handletextpad=0.35, borderaxespad=0)
leg.get_frame().set_linewidth(1.0)

fig.savefig('out.png', dpi=100)
